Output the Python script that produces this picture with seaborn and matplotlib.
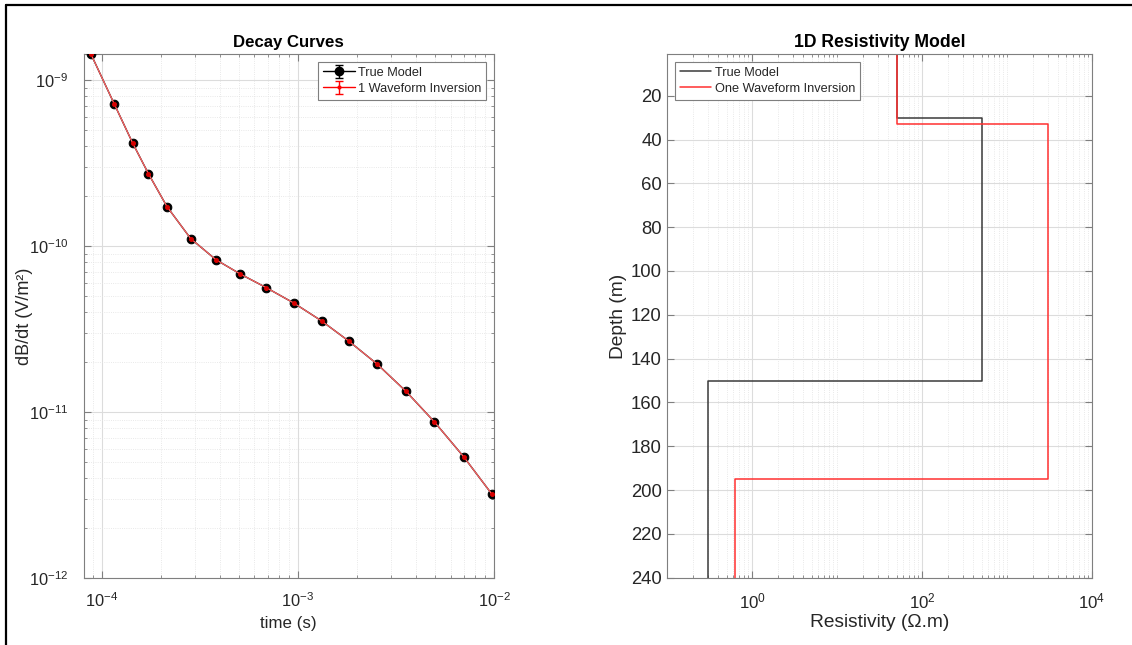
import numpy as np
import pandas as pd
import matplotlib
matplotlib.use("Agg")
import matplotlib.pyplot as plt
import matplotlib.ticker as mticker
from matplotlib.lines import Line2D
import seaborn as sns

# --- Decay curve data (time gates and dB/dt responses) ---
time_s = [8.8e-5, 1.16e-4, 1.44e-4, 1.73e-4, 2.15e-4, 2.84e-4, 3.82e-4, 5.08e-4,
          6.89e-4, 9.58e-4, 1.32e-3, 1.82e-3, 2.54e-3, 3.56e-3, 4.97e-3, 7.0e-3, 9.72e-3]
dbdt_true = [1.44e-9, 7.16e-10, 4.16e-10, 2.73e-10, 1.73e-10, 1.11e-10, 8.28e-11, 6.79e-11,
             5.62e-11, 4.52e-11, 3.54e-11, 2.67e-11, 1.94e-11, 1.33e-11, 8.7e-12, 5.37e-12, 3.21e-12]
dbdt_inv = [1.44e-9, 7.16e-10, 4.16e-10, 2.73e-10, 1.73e-10, 1.11e-10, 8.28e-11, 6.79e-11,
            5.62e-11, 4.52e-11, 3.54e-11, 2.67e-11, 1.94e-11, 1.33e-11, 8.7e-12, 5.37e-12, 3.21e-12]

# --- Layered resistivity models (resistivity per layer, depth to layer tops) ---
rho_true = [50, 500, 0.3]
top_true = [0, 30, 150]
rho_inv = [50, 3000, 0.62]
top_inv = [0, 33, 195]
depth_max = 240


def step_profile(rho, tops, bottom):
    """Vertices of a layered model drawn as a staircase with depth downward."""
    xs, ys = [], []
    bounds = list(tops) + [bottom]
    for i, r in enumerate(rho):
        xs += [r, r]
        ys += [bounds[i], bounds[i + 1]]
    return pd.DataFrame({"rho": xs, "depth": ys})


def pow10_label(v, pos=None):
    if v <= 0:
        return ""
    e = int(round(np.log10(v)))
    return r"$\mathregular{10^{%d}}$" % e


def log_ticks(lo, hi, subs):
    """Log-spaced tick positions restricted to the visible range."""
    out = []
    for e in range(int(np.floor(np.log10(lo))), int(np.ceil(np.log10(hi))) + 1):
        for s in subs:
            v = s * 10.0 ** e
            if lo * (1 - 1e-9) <= v <= hi * (1 + 1e-9):
                out.append(v)
    return out


sns.set_theme(style="ticks")
plt.rcParams["font.family"] = ["Liberation Sans", "DejaVu Sans"]
plt.rcParams["mathtext.fontset"] = "custom"
plt.rcParams["mathtext.rm"] = "Liberation Sans"
plt.rcParams["mathtext.it"] = "Liberation Sans:italic"
plt.rcParams["axes.unicode_minus"] = False

TXT = "#262626"
SPINE = "#7f7f7f"

fig = plt.figure(figsize=(11.32, 6.45), dpi=100)
ax1 = fig.add_axes([0.0738, 0.1043, 0.3626, 0.8119])
ax2 = fig.add_axes([0.5895, 0.1043, 0.3752, 0.8119])


def style_axes(ax, ypad, xsize, ysize, minor_y_grid=True):
    for s in ax.spines.values():
        s.set_color(SPINE)
        s.set_linewidth(0.8)
    ax.tick_params(which="both", direction="in", top=True, right=True,
                   color=SPINE, labelcolor=TXT)
    ax.tick_params(axis="x", which="major", labelsize=xsize, pad=10)
    ax.tick_params(axis="y", which="major", labelsize=ysize, pad=ypad)
    ax.tick_params(which="major", length=5, width=0.8)
    ax.tick_params(which="minor", length=2.5, width=0.6,
                   labelbottom=False, labelleft=False)
    ax.grid(True, which="major", color="#dcdcdc", lw=0.8, ls="-")
    if minor_y_grid:
        ax.grid(True, which="minor", color="#e2e2e2", lw=0.6, ls=":")
    else:
        ax.xaxis.grid(True, which="minor", color="#e2e2e2", lw=0.6, ls=":")
    ax.set_axisbelow(True)


def style_legend(leg):
    leg.get_frame().set_linewidth(0.8)
    for t in leg.get_texts():
        t.set_color(TXT)


LEG_KW = dict(fontsize=9.2, fancybox=False, framealpha=1, edgecolor=SPINE,
              borderaxespad=0.6, handlelength=2.45, handletextpad=0.25,
              labelspacing=0.3, borderpad=0.4)

# ---------------- Decay curves ----------------
XLIM1 = (8.07e-5, 1e-2)
YLIM1 = (1e-12, 1.44e-9)
decay = pd.DataFrame({"time": time_s, "true": dbdt_true, "inv": dbdt_inv})
sns.lineplot(data=decay, x="time", y="true", ax=ax1, color="black", lw=1.0,
             marker="o", markersize=6.2, markeredgecolor="black",
             markerfacecolor="black", estimator=None, sort=False, zorder=3)
sns.lineplot(data=decay, x="time", y="inv", ax=ax1, color="#ff6464", lw=0.9,
             marker="o", markersize=2.8, markeredgecolor="#d80000",
             markerfacecolor="#d80000", estimator=None, sort=False, zorder=4)
ax1.set_xscale("log")
ax1.set_yscale("log")
ax1.set_xlim(*XLIM1)
ax1.set_ylim(*YLIM1)
ax1.xaxis.set_major_locator(mticker.FixedLocator(log_ticks(*XLIM1, [1])))
ax1.yaxis.set_major_locator(mticker.FixedLocator(log_ticks(*YLIM1, [1])))
ax1.xaxis.set_minor_locator(mticker.FixedLocator(log_ticks(*XLIM1, range(2, 10))))
ax1.yaxis.set_minor_locator(mticker.FixedLocator(log_ticks(*YLIM1, range(2, 10))))
ax1.xaxis.set_major_formatter(mticker.FuncFormatter(pow10_label))
ax1.yaxis.set_major_formatter(mticker.FuncFormatter(pow10_label))
ax1.xaxis.set_minor_formatter(mticker.NullFormatter())
ax1.yaxis.set_minor_formatter(mticker.NullFormatter())
style_axes(ax1, ypad=11, xsize=11.8, ysize=11.8)
ax1.set_title("Decay Curves", fontsize=12.1, fontweight="bold", color="black", pad=5)
ax1.set_xlabel("time (s)", fontsize=12.2, color=TXT, labelpad=4)
ax1.set_ylabel("dB/dt (V/m²)", fontsize=13, color=TXT)
ax1.yaxis.set_label_coords(-0.122, 0.5)

h_true = ax1.errorbar([np.nan], [np.nan], yerr=[np.nan], fmt="-o", color="black",
                      ms=6, lw=1, capsize=3, elinewidth=1)
h_inv = ax1.errorbar([np.nan], [np.nan], yerr=[np.nan], fmt="-o", color="red",
                     ms=2, lw=1, capsize=3, elinewidth=1)
leg1 = ax1.legend([h_true, h_inv], ["True Model", "1 Waveform Inversion"],
                  loc="upper right", **LEG_KW)
style_legend(leg1)

# ---------------- 1D resistivity model ----------------
XLIM2 = (0.1, 1e4)
prof_true = step_profile(rho_true, top_true, depth_max)
prof_inv = step_profile(rho_inv, top_inv, depth_max)
sns.lineplot(data=prof_true, x="rho", y="depth", ax=ax2, color="#3a3a3a", lw=1.1,
             estimator=None, sort=False, label="True Model")
sns.lineplot(data=prof_inv, x="rho", y="depth", ax=ax2, color="#ff3030", lw=1.1,
             estimator=None, sort=False, label="One Waveform Inversion")
ax2.set_xscale("log")
ax2.set_xlim(*XLIM2)
ax2.set_ylim(depth_max, 1)
ax2.yaxis.set_major_locator(mticker.FixedLocator(np.arange(20, depth_max + 1, 20)))
ax2.xaxis.set_major_locator(mticker.FixedLocator([1, 100, 1e4]))
ax2.xaxis.set_major_formatter(mticker.FuncFormatter(pow10_label))
ax2.xaxis.set_minor_locator(mticker.FixedLocator(log_ticks(*XLIM2, range(1, 10))))
ax2.xaxis.set_minor_formatter(mticker.NullFormatter())
style_axes(ax2, ypad=4, xsize=12.2, ysize=13.3, minor_y_grid=False)
ax2.set_title("1D Resistivity Model", fontsize=12.7, fontweight="bold", color="black", pad=5)
ax2.set_xlabel("Resistivity (Ω.m)", fontsize=13.8, color=TXT, labelpad=2)
ax2.set_ylabel("Depth (m)", fontsize=13.8, color=TXT, labelpad=3)
leg2 = ax2.legend(loc="upper left", **LEG_KW)
style_legend(leg2)

# Frame lines along the top and left edges of the canvas
fig.add_artist(Line2D([6 / 1132, 1], [1 - 5 / 645, 1 - 5 / 645],
                      transform=fig.transFigure, color="black", lw=1.6))
fig.add_artist(Line2D([6 / 1132, 6 / 1132], [0, 1 - 5 / 645],
                      transform=fig.transFigure, color="black", lw=1.6))

fig.savefig("out.png", dpi=100, facecolor="white")
